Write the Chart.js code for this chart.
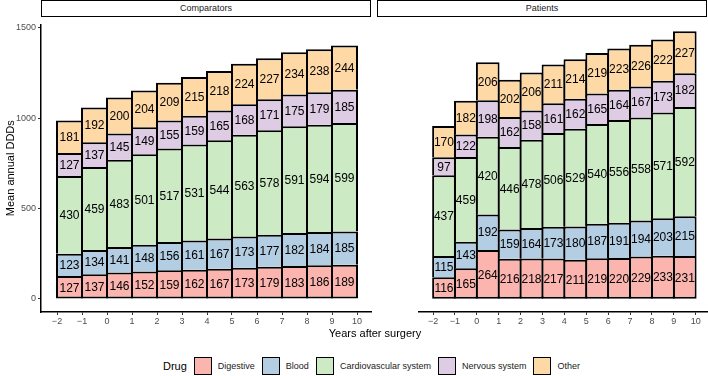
<!DOCTYPE html>
<html>
<head>
<meta charset="utf-8">
<script src="https://cdn.jsdelivr.net/npm/chart.js@4"></script>
<style>
  body { margin: 0; background: #fff; font-family: "Liberation Sans", Arial, sans-serif; }
  #wrap { position: relative; width: 708px; height: 376px; overflow: hidden; }
  .strip { position: absolute; top: 0; height: 15px; border: 1.5px solid #000; background: #fff;
           font-size: 9px; color: #1a1a1a; text-align: center; line-height: 15px; box-sizing: content-box; }
  .panel { position: absolute; top: 17px; height: 318px; }
  #xtitle { position: absolute; left: 0; width: 750px; top: 327px; text-align: center; font-size: 11px; color: #000; }
  #legend { position: absolute; left: 163px; top: 357px; display: flex; align-items: center; font-size: 9px; color: #1a1a1a; }
  #legend .judul { font-size: 11px; color: #000; margin-right: 7px; }
  #legend .kotak { width: 16px; height: 16px; border: 1.5px solid #000; margin-right: 6px; }
  #legend .teks { margin-right: 7px; }
</style>
</head>
<body>
<div id="wrap">
  <div class="strip" style="left:41px; width:328px;">Comparators</div>
  <div class="strip" style="left:377px; width:328px;">Patients</div>
  <div class="panel" style="left:0; width:372px;"><canvas id="grafikKiri"></canvas></div>
  <div class="panel" style="left:372px; width:336px;"><canvas id="grafikKanan"></canvas></div>
  <div id="xtitle">Years after surgery</div>
  <div id="legend"></div>
</div>
<script>
// Tahun (posisi awal tiap batang) dan label sumbu
const years = [-2, -1, 0, 1, 2, 3, 4, 5, 6, 7, 8, 9];
const xTickLabels = [-2, -1, 0, 1, 2, 3, 4, 5, 6, 7, 8, 9, 10];
const yTickLabels = [0, 500, 1000, 1500];

const seriesNames = ['Digestive', 'Blood', 'Cardiovascular system', 'Nervous system', 'Other'];
const seriesColors = ['#FBB4AE', '#B3CDE3', '#CCEBC5', '#DECBE4', '#FED9A6'];

// Comparators
const compDigestive = [127, 137, 146, 152, 159, 162, 167, 173, 179, 183, 186, 189];
const compBlood     = [123, 134, 141, 148, 156, 161, 167, 173, 177, 182, 184, 185];
const compCardio    = [430, 459, 483, 501, 517, 531, 544, 563, 578, 591, 594, 599];
const compNervous   = [127, 137, 145, 149, 155, 159, 165, 168, 171, 175, 179, 185];
const compOther     = [181, 192, 200, 204, 209, 215, 218, 224, 227, 234, 238, 244];

// Patients
const patDigestive = [116, 165, 264, 216, 218, 217, 211, 219, 220, 229, 233, 231];
const patBlood     = [115, 143, 192, 159, 164, 173, 180, 187, 191, 194, 203, 215];
const patCardio    = [437, 459, 420, 446, 478, 506, 529, 540, 556, 558, 571, 592];
const patNervous   = [97, 122, 198, 162, 158, 161, 162, 165, 164, 167, 173, 182];
const patOther     = [170, 182, 206, 202, 206, 211, 214, 219, 223, 226, 222, 227];

const fontFamily = '"Liberation Sans", Arial, sans-serif';

function buatDataset(semuaSeri) {
    return semuaSeri.map(function(nilai, i) {
        return {
            label: seriesNames[i],
            data: nilai.map(function(v, j) { return { x: years[j] + 0.5, y: v }; }),
            backgroundColor: seriesColors[i],
            borderColor: '#000',
            borderWidth: 2,
            // batang bawah pakai garis penuh, sisanya tanpa garis bawah agar tidak dobel
            borderSkipped: i === 0 ? false : 'start',
            barPercentage: 1.08,
            categoryPercentage: 1
        };
    });
}

// tulis angka di tengah tiap segmen
const labelNilai = {
    id: 'labelNilai',
    afterDatasetsDraw(chart) {
        const ctx = chart.ctx;
        ctx.save();
        ctx.font = '12px ' + fontFamily;
        ctx.fillStyle = '#000';
        ctx.textAlign = 'center';
        ctx.textBaseline = 'middle';
        chart.data.datasets.forEach(function(ds, i) {
            const meta = chart.getDatasetMeta(i);
            meta.data.forEach(function(bar, j) {
                const p = bar.getProps(['x', 'y', 'base'], true);
                ctx.fillText(String(ds.data[j].y), p.x, (p.y + p.base) / 2 + 1);
            });
        });
        ctx.restore();
    }
};

function buatOpsi(denganSumbuY) {
    return {
        responsive: true,
        maintainAspectRatio: false,
        animation: false,
        layout: { padding: { top: 1, right: denganSumbuY ? 1 : 0, bottom: 0, left: denganSumbuY ? 0 : 6 } },
        plugins: { legend: { display: false }, tooltip: { enabled: false } },
        scales: {
            x: {
                type: 'linear',
                stacked: true,
                offset: false,
                min: -2.64,
                max: 10.56,
                afterBuildTicks: function(scale) {
                    scale.ticks = xTickLabels.map(function(v) { return { value: v }; });
                },
                afterFit: function(scale) { scale.height = 23; },
                grid: { offset: false, drawOnChartArea: false, drawTicks: true, tickLength: 3, color: '#333', tickWidth: 1 },
                border: { display: true, color: '#000', width: 1.5 },
                ticks: {
                    autoSkip: false,
                    maxRotation: 0,
                    padding: 1,
                    color: '#4d4d4d',
                    font: { size: 9, family: fontFamily },
                    callback: function(v) { return String(v).replace('-', '\u2212'); }
                }
            },
            y: {
                display: denganSumbuY,
                stacked: true,
                min: -72,
                max: 1519,
                afterBuildTicks: function(scale) {
                    scale.ticks = yTickLabels.map(function(v) { return { value: v }; });
                },
                afterFit: function(scale) { scale.width = 41; },
                grid: { drawOnChartArea: false, drawTicks: true, tickLength: 3, color: '#333', tickWidth: 1 },
                border: { display: true, color: '#000', width: 1.5 },
                title: {
                    display: true,
                    text: 'Mean annual DDDs',
                    color: '#000',
                    font: { size: 11, family: fontFamily },
                    padding: { top: 4, bottom: 0 }
                },
                ticks: {
                    padding: 2,
                    color: '#4d4d4d',
                    font: { size: 9, family: fontFamily },
                    callback: function(v) { return String(v); }
                }
            }
        }
    };
}

new Chart(document.getElementById('grafikKiri'), {
    type: 'bar',
    data: { datasets: buatDataset([compDigestive, compBlood, compCardio, compNervous, compOther]) },
    options: buatOpsi(true),
    plugins: [labelNilai]
});

new Chart(document.getElementById('grafikKanan'), {
    type: 'bar',
    data: { datasets: buatDataset([patDigestive, patBlood, patCardio, patNervous, patOther]) },
    options: buatOpsi(false),
    plugins: [labelNilai]
});

// legenda bawah
const legenda = document.getElementById('legend');
let isiLegenda = '<span class="judul">Drug</span>';
seriesNames.forEach(function(nama, i) {
    isiLegenda += '<span class="kotak" style="background:' + seriesColors[i] + '"></span>' +
                  '<span class="teks">' + nama + '</span>';
});
legenda.innerHTML = isiLegenda;
</script>
</body>
</html>
